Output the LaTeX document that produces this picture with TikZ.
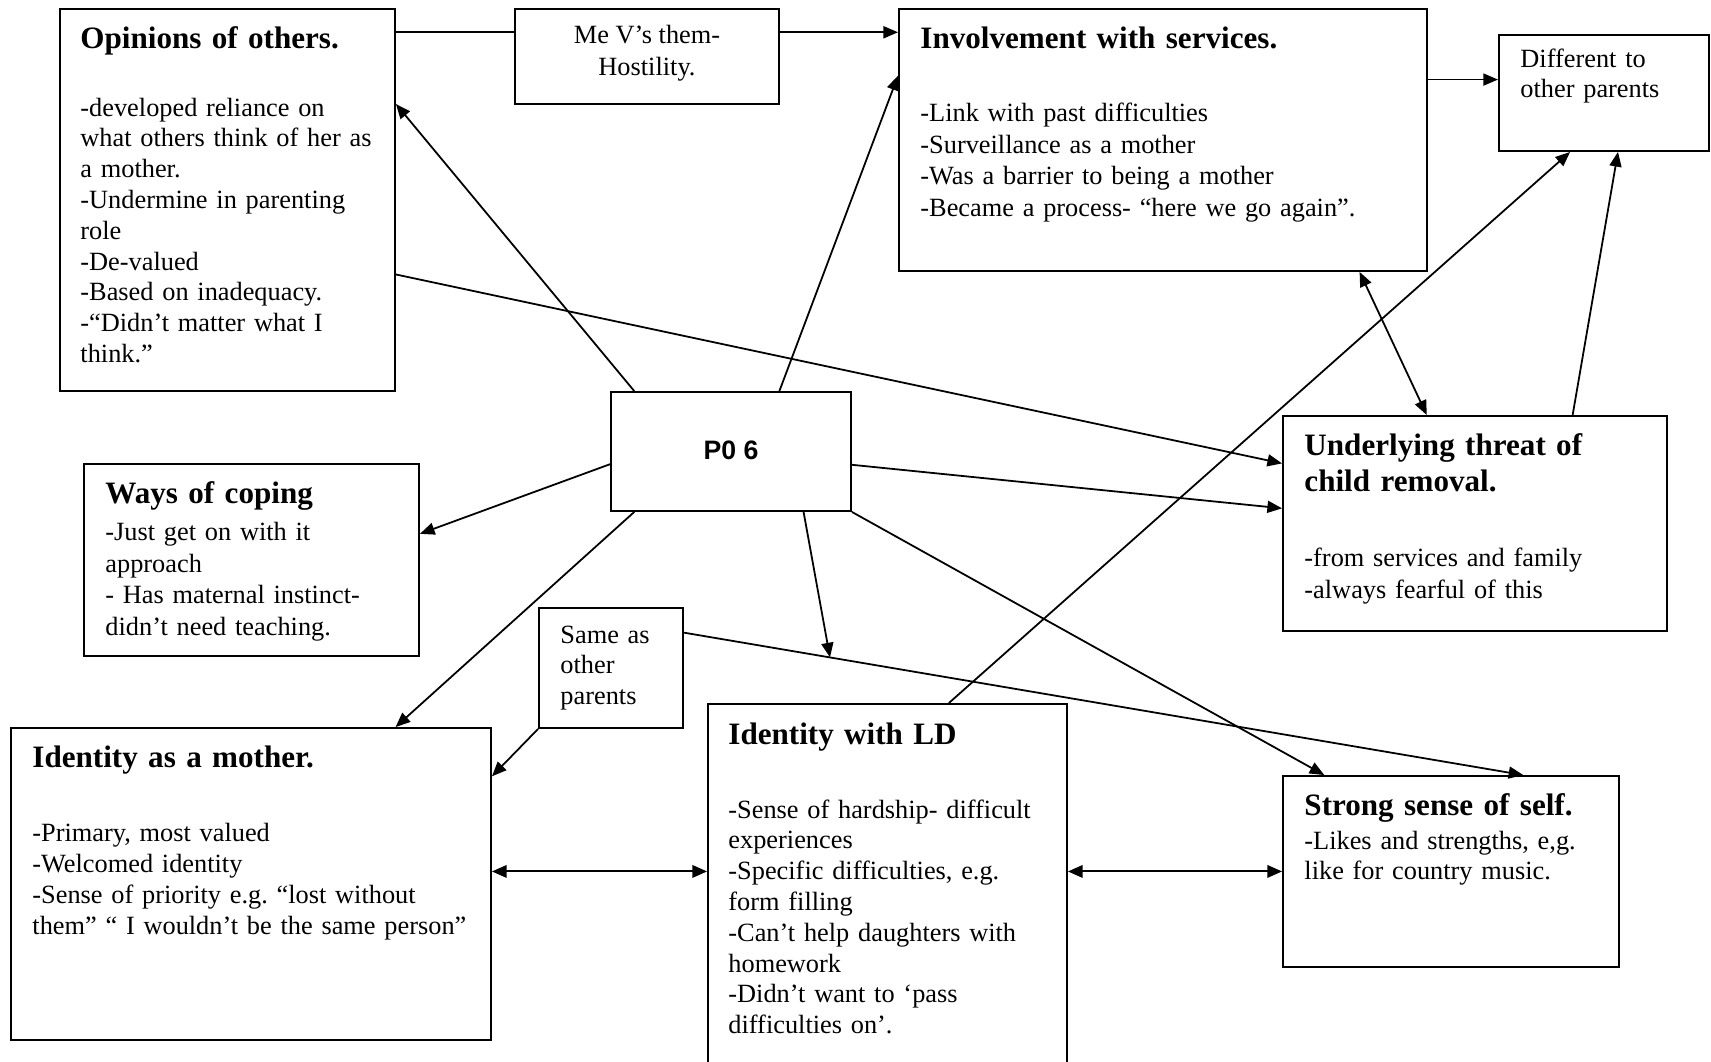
\documentclass[tikz,border=0pt]{standalone}
\usepackage{fontspec}
\setmainfont{Liberation Serif}
\newfontfamily\labelsans{Liberation Sans}
\usetikzlibrary{arrows.meta,calc,fit}
\frenchspacing

\begin{document}
\begin{tikzpicture}[x=0.45pt,y=-0.45pt,
  box/.style={draw,line width=0.85pt,inner sep=0pt},
  ttl/.style={anchor=north west,inner sep=0pt,align=left,text width=8cm,
    font=\fontsize{14}{16.2}\selectfont\bfseries},
  txt/.style={anchor=north west,inner sep=0pt,align=left,text width=8cm,
    font=\fontsize{11.85}{#1}\selectfont},
  txt/.default=13.86,
  tip/.style={-{Triangle[length=6.6pt,width=5.4pt]}},
  link/.style={line width=0.8pt,tip},
  plain/.style={line width=0.9pt},
  hlink/.style={line width=0.9pt,tip},
  dlink/.style={line width=0.9pt,{Triangle[length=6.6pt,width=5.6pt]}-{Triangle[length=6.6pt,width=5.6pt]}},
  dlinkthin/.style={line width=0.8pt,{Triangle[length=6.6pt,width=5.4pt]}-{Triangle[length=6.6pt,width=5.4pt]}},
]
\useasboundingbox (0,0) rectangle (1711,1062);

% ---------- boxes ----------
\node[box,fit={(60,9)(395,391)}]     (opin) {};
\node[box,fit={(515,9)(779,104)}]    (mev)  {};
\node[box,fit={(899,9)(1427,271)}]   (inv)  {};
\node[box,fit={(1499,35)(1709,151)}] (diff) {};
\node[box,fit={(611,392)(851,511)}]  (p06)  {};
\node[box,fit={(84,464)(419,656)}]   (ways) {};
\node[box,fit={(1283,416)(1667,631)}](und)  {};
\node[box,fit={(539,608)(683,728)}]  (same) {};
\node[box,fit={(11,728)(491,1040)}]  (moth) {};
\node[box,fit={(708,704)(1067,1075)}](ld)   {};
\node[box,fit={(1283,776)(1619,967)}](self) {};

% ---------- texts ----------
\node[ttl] (opinT) at (80,23) {\strut Opinions of others.};
\node[txt] (opinB) at (80,94) {\strut -developed reliance on\\what others think of her as\\a mother.\\-Undermine in parenting\\role\\-De-valued\\-Based on inadequacy.\\-“Didn’t matter what I\\think.”};

\node[anchor=north,inner sep=0pt,align=center,font=\fontsize{11.85}{14.4}\selectfont] (mevT) at (647,21) {\strut Me V’s them-\\Hostility.};

\node[ttl] (invT) at (920,23) {\strut Involvement with services.};
\node[txt=14.2] (invB) at (920,99) {\strut -Link with past difficulties\\-Surveillance as a mother\\-Was a barrier to being a mother\\-Became a process- “here we go again”.};

\node[txt] (diffT) at (1520,45) {\strut Different to\\other parents};

\node[inner sep=0pt,font=\labelsans\fontsize{12}{14}\selectfont\bfseries] (p06T) at (731,450) {P0 6};

\node[ttl] (waysT) at (105,478) {\strut Ways of coping};
\node[txt=14.25] (waysB) at (105,518) {\strut -Just get on with it\\approach\\- Has maternal instinct-\\didn’t need teaching.};

\node[ttl] (undT) at (1304,430) {\strut Underlying threat of\\child removal.};
\node[txt=14.6] (undB) at (1304,543) {\strut -from services and family\\-always fearful of this};

\node[txt] (sameT) at (560,621) {\strut Same as\\other\\parents};

\node[ttl] (mothT) at (32,742) {\strut Identity as a mother.};
\node[txt=13.98] (mothB) at (32,819) {\strut -Primary, most valued\\-Welcomed identity\\-Sense of priority e.g. “lost without\\them” “ I wouldn’t be the same person”};

\node[ttl] (ldT) at (728,719) {\strut Identity with LD};
\node[txt] (ldB) at (728,796) {\strut -Sense of hardship- difficult\\experiences\\-Specific difficulties, e.g.\\form filling\\-Can’t help daughters with\\homework\\-Didn’t want to ‘pass\\difficulties on’.};

\node[ttl] (selfT) at (1304,790) {\strut Strong sense of self.};
\node[txt] (selfB) at (1304,827) {\strut -Likes and strengths, e,g.\\like for country music.};

% ---------- connectors ----------
\coordinate (a1) at ($(opin.north east)!0.063!(opin.south east)$);
\draw[plain] (a1) -- (a1 -| mev.west);
\coordinate (a2) at ($(mev.north east)!0.25!(mev.south east)$);
\draw[hlink] (a2) -- (a2 -| inv.west);

\draw[link] ($(p06.north west)!0.1!(p06.north east)$) -- ($(opin.north east)!0.25!(opin.south east)$);
\draw[link] ($(p06.north west)!0.7!(p06.north east)$) -- ($(inv.north west)!0.256!(inv.south west)$);
\draw[link] ($(opin.north east)!0.694!(opin.south east)$) -- ($(und.north west)!0.223!(und.south west)$);
\draw[link] ($(p06.north east)!0.61!(p06.south east)$) -- ($(und.north west)!0.43!(und.south west)$);
\draw[link] ($(p06.north west)!0.605!(p06.south west)$) -- ($(ways.north east)!0.365!(ways.south east)$);
\draw[link] ($(p06.south west)!0.1!(p06.south east)$) -- ($(moth.north west)!0.8!(moth.north east)$);

\coordinate (s1) at ($(same.north east)!0.21!(same.south east)$);
\coordinate (s2) at ($(self.north west)!0.714!(self.north east)$);
\draw[link] (s1) -- (s2);
\coordinate (s3) at ($(s1)!0.174!(s2)$);
\draw[link] ($(p06.south west)!0.8!(p06.south east)$) -- (s3);

\draw[link] (p06.south east) -- ($(self.north west)!0.125!(self.north east)$);
\draw[link] (same.south west) -- ($(moth.north east)!0.157!(moth.south east)$);

\coordinate (m1) at ($(moth.north east)!0.46!(moth.south east)$);
\draw[dlink] (m1) -- (m1 -| ld.west);
\coordinate (l1) at (ld.east |- m1);
\draw[dlink] (l1) -- (l1 -| self.west);

\draw[link] ($(ld.north west)!0.67!(ld.north east)$) -- ($(diff.south west)!0.34!(diff.south east)$);
\draw[link] ($(und.north west)!0.753!(und.north east)$) -- ($(diff.south west)!0.566!(diff.south east)$);

\coordinate (i1) at ($(inv.north east)!0.271!(inv.south east)$);
\draw[link] (i1) -- (i1 -| diff.west);

\draw[dlinkthin] ($(inv.south west)!0.871!(inv.south east)$) -- ($(und.north west)!0.375!(und.north east)$);
\end{tikzpicture}
\end{document}
